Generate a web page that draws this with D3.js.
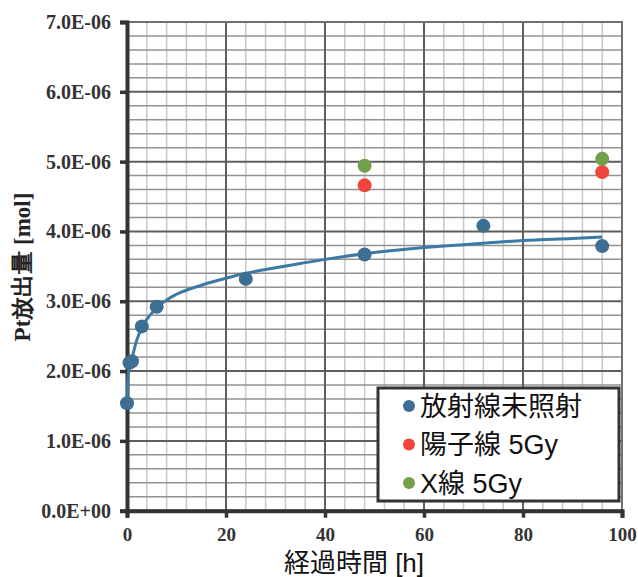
<!DOCTYPE html>
<html><head><meta charset="utf-8">
<script src="https://cdn.jsdelivr.net/npm/d3@7"></script>
<style>body{margin:0;background:#fff}svg{display:block}</style>
</head><body>
<svg id="c" width="638" height="577"></svg>
<script>
// ---- data ----
const seriesNames = ["放射線未照射", "陽子線 5Gy", "X線 5Gy"];
const seriesColors = ["#3f6e93", "#f0453c", "#72a04a"];
const unirradX = [0, 0.5, 1, 3, 6, 24, 48, 72, 96];
const unirradY = [1.54e-6, 2.12e-6, 2.14e-6, 2.64e-6, 2.92e-6, 3.32e-6, 3.67e-6, 4.08e-6, 3.79e-6];
const protonX = [48, 96];
const protonY = [4.66e-6, 4.85e-6];
const xrayX = [48, 96];
const xrayY = [4.94e-6, 5.04e-6];
const fitX = [0, 0.3, 0.7, 1, 2, 3, 4, 6, 8, 10, 15, 20, 24, 30, 35, 40, 48, 60, 72, 80, 90, 96];
const fitY = [1.54e-6, 1.98e-6, 2.10e-6, 2.18e-6, 2.45e-6, 2.62e-6, 2.74e-6, 2.90e-6, 3.02e-6, 3.10e-6, 3.23e-6, 3.33e-6, 3.40e-6, 3.48e-6, 3.54e-6, 3.60e-6, 3.68e-6, 3.77e-6, 3.83e-6, 3.87e-6, 3.90e-6, 3.92e-6];
const xTicks = [0, 20, 40, 60, 80, 100];
const yTicks = [0, 1e-6, 2e-6, 3e-6, 4e-6, 5e-6, 6e-6, 7e-6];
const yTickLabels = ["0.0E+00", "1.0E-06", "2.0E-06", "3.0E-06", "4.0E-06", "5.0E-06", "6.0E-06", "7.0E-06"];
const xTitle = "経過時間 [h]";
const yTitle = "Pt放出量 [mol]";

// ---- layout ----
const L = 127, R = 622, T = 22, B = 510.7;
const svg = d3.select("#c");
const x = d3.scaleLinear().domain([0, 100]).range([L, R]);
const y = d3.scaleLinear().domain([0, 7e-6]).range([B, T]);
const serif = "'Liberation Serif','Times New Roman',serif";
const sans = "'Liberation Sans','Noto Sans CJK JP',sans-serif";

// grid
const g = svg.append("g");
const xMinor = d3.range(0, 100.01, 4).filter(v => v % 20 !== 0);
const yMinor = d3.range(0, 35.01, 1).map(v => v * 0.2e-6).filter((v, i) => i % 5 !== 0);
g.selectAll(".xm").data(xMinor).join("line")
  .attr("x1", d => x(d)).attr("x2", d => x(d)).attr("y1", T).attr("y2", B)
  .attr("stroke", "#c8c8c8").attr("stroke-width", 1.5);
g.selectAll(".ym").data(yMinor).join("line")
  .attr("x1", L).attr("x2", R).attr("y1", d => y(d)).attr("y2", d => y(d))
  .attr("stroke", "#929292").attr("stroke-width", 1.5);
g.selectAll(".xM").data(xTicks).join("line")
  .attr("x1", d => x(d)).attr("x2", d => x(d)).attr("y1", T).attr("y2", B)
  .attr("stroke", "#5e5e5e").attr("stroke-width", 2);
g.selectAll(".yM").data(yTicks).join("line")
  .attr("x1", L).attr("x2", R).attr("y1", d => y(d)).attr("y2", d => y(d))
  .attr("stroke", "#5e5e5e").attr("stroke-width", 2);
g.append("rect").attr("x", L).attr("y", T).attr("width", R - L).attr("height", B - T)
  .attr("fill", "none").attr("stroke", "#707070").attr("stroke-width", 2);

// axes
const yAxis = d3.axisLeft(y).tickValues(yTicks).tickFormat((d, i) => yTickLabels[i]).tickSize(7).tickPadding(9);
const ya = svg.append("g").attr("transform", `translate(${L},0)`).call(yAxis);
const xAxis = d3.axisBottom(x).tickValues(xTicks).tickSize(7).tickPadding(10);
const xa = svg.append("g").attr("transform", `translate(0,${B})`).call(xAxis);
[ya, xa].forEach(a => {
  a.select(".domain").attr("stroke", "#333").attr("stroke-width", 4);
  a.selectAll(".tick line").attr("stroke", "#333").attr("stroke-width", 3.5);
  a.selectAll("text").attr("font-family", serif).attr("font-weight", "bold")
    .attr("font-size", 20).attr("fill", "#333");
});
xa.selectAll("text").attr("font-size", 19);

// fit curve
const line = d3.line().x(d => x(d[0])).y(d => y(d[1])).curve(d3.curveMonotoneX);
svg.append("path").datum(fitX.map((v, i) => [v, fitY[i]]))
  .attr("d", line).attr("fill", "none").attr("stroke", "#3a7aa3").attr("stroke-width", 3);

// points
const sets = [[unirradX, unirradY], [protonX, protonY], [xrayX, xrayY]];
sets.forEach((s, k) => {
  svg.append("g").selectAll("circle").data(s[0].map((v, i) => [v, s[1][i]])).join("circle")
    .attr("cx", d => x(d[0])).attr("cy", d => y(d[1])).attr("r", 7)
    .attr("fill", seriesColors[k]);
});

// legend
const lg = svg.append("g");
lg.append("rect").attr("x", 378).attr("y", 388).attr("width", 241).attr("height", 113)
  .attr("fill", "#fff").attr("stroke", "#333").attr("stroke-width", 3);
seriesNames.forEach((n, i) => {
  const cy = 406 + i * 38.5;
  lg.append("circle").attr("cx", 409).attr("cy", cy).attr("r", 6).attr("fill", seriesColors[i]);
  lg.append("text").attr("x", 420).attr("y", cy + 9.5).text(n)
    .attr("font-family", sans).attr("font-size", 27).attr("fill", "#111");
});

// titles
svg.append("text").attr("x", 354).attr("y", 572).attr("text-anchor", "middle")
  .attr("font-family", sans).attr("font-size", 26).attr("fill", "#111").text(xTitle);
svg.append("text").attr("transform", "translate(30,267) rotate(-90)").attr("text-anchor", "middle")
  .attr("font-family", serif).attr("font-weight", "bold").attr("font-size", 23).attr("fill", "#222").text(yTitle);
</script>
</body></html>
